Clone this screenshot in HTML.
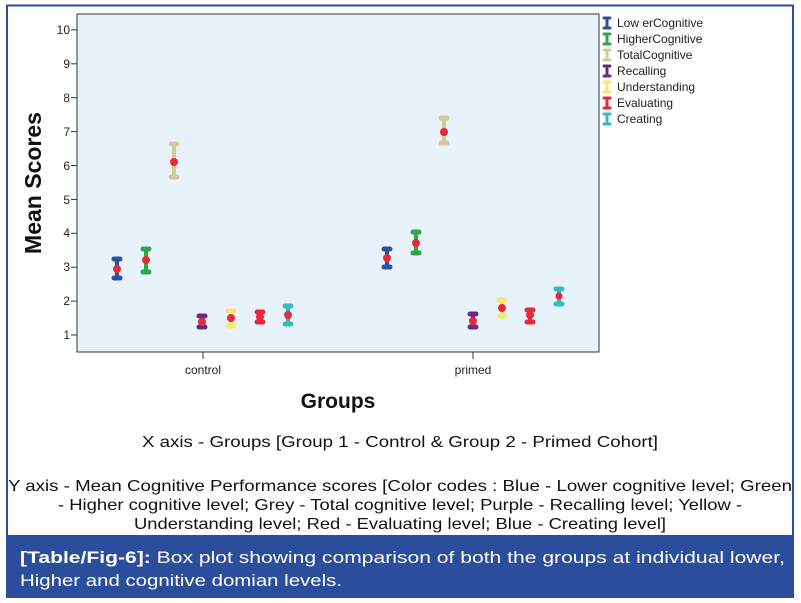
<!DOCTYPE html>
<html><head><meta charset="utf-8"><style>
html,body{margin:0;padding:0;background:#fff;}
svg{display:block;}
text{font-family:"Liberation Sans",Arial,sans-serif;}
</style></head><body>
<svg width="801" height="603" viewBox="0 0 801 603" xmlns="http://www.w3.org/2000/svg">
<rect x="0" y="0" width="801" height="603" fill="#fff"/>
<rect x="7" y="5.5" width="786" height="560" fill="none" stroke="#2a4d9c" stroke-width="2"/>
<rect x="77" y="14" width="522" height="338" fill="#e8f2fb" stroke="#333" stroke-width="1"/>
<g stroke="#333" stroke-width="1">
<line x1="71" x2="77" y1="335" y2="335"/><line x1="71" x2="77" y1="301.1" y2="301.1"/>
<line x1="71" x2="77" y1="267.2" y2="267.2"/><line x1="71" x2="77" y1="233.3" y2="233.3"/>
<line x1="71" x2="77" y1="199.4" y2="199.4"/><line x1="71" x2="77" y1="165.5" y2="165.5"/>
<line x1="71" x2="77" y1="131.6" y2="131.6"/><line x1="71" x2="77" y1="97.7" y2="97.7"/>
<line x1="71" x2="77" y1="63.8" y2="63.8"/><line x1="71" x2="77" y1="29.9" y2="29.9"/>
<line x1="203" x2="203" y1="352" y2="359"/><line x1="473" x2="473" y1="352" y2="359"/>
</g>
<g font-size="12" fill="#222" text-anchor="end">
<text x="70" y="339">1</text><text x="70" y="305">2</text><text x="70" y="271">3</text>
<text x="70" y="237">4</text><text x="70" y="204">5</text><text x="70" y="170">6</text>
<text x="70" y="136">7</text><text x="70" y="102">8</text><text x="70" y="68">9</text>
<text x="70" y="34">10</text>
</g>
<text x="203" y="374" font-size="12" fill="#222" text-anchor="middle">control</text>
<text x="473" y="374" font-size="12" fill="#222" text-anchor="middle">primed</text>
<text transform="translate(41,183) rotate(-90)" font-size="23" font-weight="bold" fill="#111" text-anchor="middle">Mean Scores</text>
<text x="338" y="408" font-size="21" font-weight="bold" fill="#111" text-anchor="middle">Groups</text>
<g stroke-width="4" stroke-linecap="round">
<g stroke="#2d4f9f"><line x1="117" x2="117" y1="259" y2="278"/><line x1="114" x2="120" y1="259" y2="259" stroke-width="5"/><line x1="114" x2="120" y1="278" y2="278" stroke-width="5"/></g>
<g stroke="#2fa84a"><line x1="146" x2="146" y1="249" y2="272"/><line x1="143" x2="149" y1="249" y2="249" stroke-width="5"/><line x1="143" x2="149" y1="272" y2="272" stroke-width="5"/></g>
<g stroke="#d3cb9c"><line x1="174" x2="174" y1="144" y2="177"/><line x1="171" x2="177" y1="144" y2="144" stroke-width="5"/><line x1="171" x2="177" y1="177" y2="177" stroke-width="5"/></g>
<g stroke="#6a2a82"><line x1="202" x2="202" y1="316" y2="327"/><line x1="199" x2="205" y1="316" y2="316" stroke-width="5"/><line x1="199" x2="205" y1="327" y2="327" stroke-width="5"/></g>
<g stroke="#f3ea6a"><line x1="231" x2="231" y1="311" y2="326"/><line x1="228" x2="234" y1="311" y2="311" stroke-width="5"/><line x1="228" x2="234" y1="326" y2="326" stroke-width="5"/></g>
<g stroke="#e8293a"><line x1="260" x2="260" y1="312" y2="322"/><line x1="257" x2="263" y1="312" y2="312" stroke-width="5"/><line x1="257" x2="263" y1="322" y2="322" stroke-width="5"/></g>
<g stroke="#3ab9c3"><line x1="288" x2="288" y1="306" y2="324"/><line x1="285" x2="291" y1="306" y2="306" stroke-width="5"/><line x1="285" x2="291" y1="324" y2="324" stroke-width="5"/></g>
<g stroke="#2d4f9f"><line x1="387" x2="387" y1="249" y2="267"/><line x1="384" x2="390" y1="249" y2="249" stroke-width="5"/><line x1="384" x2="390" y1="267" y2="267" stroke-width="5"/></g>
<g stroke="#2fa84a"><line x1="416" x2="416" y1="232" y2="253"/><line x1="413" x2="419" y1="232" y2="232" stroke-width="5"/><line x1="413" x2="419" y1="253" y2="253" stroke-width="5"/></g>
<g stroke="#d3cb9c"><line x1="444" x2="444" y1="118" y2="143"/><line x1="441" x2="447" y1="118" y2="118" stroke-width="5"/><line x1="441" x2="447" y1="143" y2="143" stroke-width="5"/></g>
<g stroke="#6a2a82"><line x1="473" x2="473" y1="314" y2="327"/><line x1="470" x2="476" y1="314" y2="314" stroke-width="5"/><line x1="470" x2="476" y1="327" y2="327" stroke-width="5"/></g>
<g stroke="#f3ea6a"><line x1="502" x2="502" y1="300" y2="316"/><line x1="499" x2="505" y1="300" y2="300" stroke-width="5"/><line x1="499" x2="505" y1="316" y2="316" stroke-width="5"/></g>
<g stroke="#e8293a"><line x1="530" x2="530" y1="310" y2="322"/><line x1="527" x2="533" y1="310" y2="310" stroke-width="5"/><line x1="527" x2="533" y1="322" y2="322" stroke-width="5"/></g>
<g stroke="#3ab9c3"><line x1="559" x2="559" y1="289" y2="304"/><line x1="556" x2="562" y1="289" y2="289" stroke-width="5"/><line x1="556" x2="562" y1="304" y2="304" stroke-width="5"/></g>
</g>
<g fill="#e8293a">
<circle cx="117" cy="269" r="4"/><circle cx="146" cy="260" r="4"/><circle cx="174" cy="162" r="4"/>
<circle cx="202" cy="322" r="4"/><circle cx="231" cy="318" r="4"/><circle cx="260" cy="317" r="4"/><circle cx="288" cy="315" r="4"/>
<circle cx="387" cy="258" r="4"/><circle cx="416" cy="243" r="4"/><circle cx="444" cy="132" r="4"/>
<circle cx="473" cy="321" r="4"/><circle cx="502" cy="308" r="4"/><circle cx="530" cy="315" r="4"/><circle cx="559" cy="296" r="3.5"/>
</g>
<g stroke-width="3" stroke-linecap="round">
<g stroke="#2d4f9f"><line x1="607" x2="607" y1="18" y2="28"/><line x1="604" x2="610" y1="18" y2="18"/><line x1="604" x2="610" y1="28" y2="28"/></g>
<g stroke="#2fa84a"><line x1="607" x2="607" y1="34" y2="44"/><line x1="604" x2="610" y1="34" y2="34"/><line x1="604" x2="610" y1="44" y2="44"/></g>
<g stroke="#d3cb9c"><line x1="607" x2="607" y1="50" y2="60"/><line x1="604" x2="610" y1="50" y2="50"/><line x1="604" x2="610" y1="60" y2="60"/></g>
<g stroke="#6a2a82"><line x1="607" x2="607" y1="66" y2="76"/><line x1="604" x2="610" y1="66" y2="66"/><line x1="604" x2="610" y1="76" y2="76"/></g>
<g stroke="#f3ea6a"><line x1="607" x2="607" y1="82" y2="92"/><line x1="604" x2="610" y1="82" y2="82"/><line x1="604" x2="610" y1="92" y2="92"/></g>
<g stroke="#e8293a"><line x1="607" x2="607" y1="98" y2="108"/><line x1="604" x2="610" y1="98" y2="98"/><line x1="604" x2="610" y1="108" y2="108"/></g>
<g stroke="#3ab9c3"><line x1="607" x2="607" y1="114" y2="124"/><line x1="604" x2="610" y1="114" y2="114"/><line x1="604" x2="610" y1="124" y2="124"/></g>
</g>
<g font-size="12" fill="#222">
<text x="617" y="27">Low erCognitive</text><text x="617" y="43">HigherCognitive</text>
<text x="617" y="59">TotalCognitive</text><text x="617" y="75">Recalling</text>
<text x="617" y="91">Understanding</text><text x="617" y="107">Evaluating</text>
<text x="617" y="123">Creating</text>
</g>
<g font-size="16" fill="#111" text-anchor="middle">
<text x="400" y="447" textLength="516" lengthAdjust="spacingAndGlyphs">X axis - Groups [Group 1 - Control &amp; Group 2 - Primed Cohort]</text>
<text x="400" y="491" textLength="784" lengthAdjust="spacingAndGlyphs">Y axis - Mean Cognitive Performance scores [Color codes : Blue - Lower cognitive level; Green</text>
<text x="400" y="510" textLength="684" lengthAdjust="spacingAndGlyphs">- Higher cognitive level; Grey - Total cognitive level; Purple - Recalling level; Yellow -</text>
<text x="400" y="529" textLength="532" lengthAdjust="spacingAndGlyphs">Understanding level; Red - Evaluating level; Blue - Creating level]</text>
</g>
<rect x="6" y="535" width="788" height="63" fill="#2a4d9c"/>
<text x="20" y="563" font-size="17" fill="#fff" textLength="765" lengthAdjust="spacingAndGlyphs"><tspan font-weight="bold">[Table/Fig-6]:</tspan> Box plot showing comparison of both the groups at individual lower,</text>
<text x="20" y="586" font-size="17" fill="#fff" textLength="322" lengthAdjust="spacingAndGlyphs">Higher and cognitive domian levels.</text>
</svg>
</body></html>
